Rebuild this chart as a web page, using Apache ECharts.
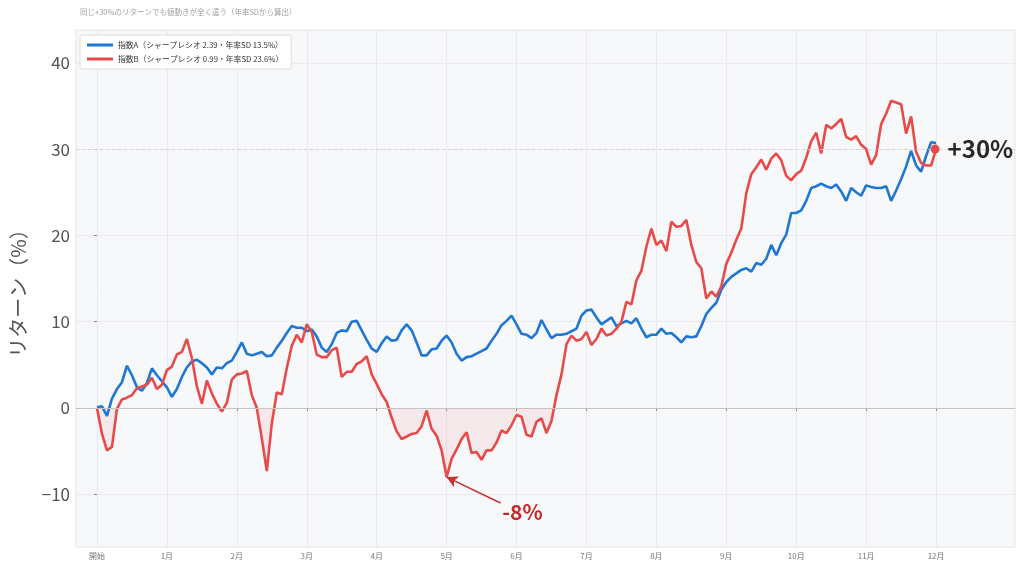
<!DOCTYPE html>
<html>
<head>
<meta charset="utf-8">
<script src="https://cdn.jsdelivr.net/npm/echarts@6/dist/echarts.min.js"></script>
<style>
html,body{margin:0;padding:0;background:#fff;}
#chart{width:1024px;height:566px;}
</style>
</head>
<body>
<div id="chart"></div>
<script>
// ---- data ----
const titleText = '同じ+30%のリターンでも値動きが全く違う（年率SDから算出）';
const monthLabels = ['開始','1月','2月','3月','4月','5月','6月','7月','8月','9月','10月','11月','12月'];
const stepsPerMonth = 14;
const yTicks = [-10, 0, 10, 20, 30, 40];
const seriesNames = ['指数A（シャープレシオ 2.39・年率SD 13.5%）', '指数B（シャープレシオ 0.99・年率SD 23.6%）'];
const indexA = [
  0.1,0.2,-0.9,1.1,2.2,3.0,4.9,3.8,2.4,2.0,
  2.9,4.6,3.8,3.1,2.4,1.3,2.2,3.6,4.7,5.4,
  5.6,5.2,4.7,3.9,4.7,4.6,5.2,5.5,6.5,7.6,
  6.3,6.1,6.3,6.5,6.0,6.1,7.0,7.8,8.7,9.5,
  9.3,9.3,8.9,9.1,8.3,7.0,6.5,7.4,8.7,9.0,
  8.9,10.0,10.1,9.0,7.9,6.9,6.5,7.5,8.3,7.8,
  7.9,9.0,9.7,9.0,7.6,6.1,6.1,6.8,6.9,7.8,
  8.4,7.6,6.3,5.5,5.9,6.0,6.3,6.6,6.9,7.8,
  8.6,9.6,10.1,10.7,9.7,8.6,8.5,8.1,8.7,10.2,
  9.1,8.1,8.5,8.5,8.6,8.9,9.2,10.7,11.3,11.4,
  10.5,9.7,10.1,10.5,9.5,9.8,10.1,9.8,10.4,9.2,
  8.2,8.5,8.5,9.2,8.6,8.7,8.2,7.6,8.3,8.2,
  8.3,9.5,10.9,11.6,12.2,13.7,14.6,15.2,15.6,16.0,
  16.2,15.8,16.8,16.6,17.3,18.9,17.7,19.1,20.1,22.6,
  22.6,22.9,24.0,25.5,25.7,26.0,25.7,25.5,25.9,25.1,
  24.0,25.5,25.0,24.6,25.8,25.6,25.5,25.5,25.7,24.0,
  25.2,26.5,28.0,29.8,28.1,27.4,29.2,30.8,30.7
];
const indexB = [
  0.0,-3.0,-4.9,-4.5,-0.1,1.0,1.2,1.5,2.3,2.5,
  2.7,3.5,2.2,2.7,4.4,4.8,6.2,6.5,8.0,5.8,
  2.5,0.5,3.2,1.7,0.5,-0.4,0.6,3.3,3.9,4.0,
  4.3,1.5,0.0,-3.5,-7.3,-1.8,1.8,1.6,4.6,7.2,
  8.5,7.6,9.7,8.8,6.2,5.9,5.9,6.7,7.0,3.6,
  4.2,4.2,5.1,5.4,6.0,3.9,2.8,1.6,0.7,-1.1,
  -2.7,-3.6,-3.3,-3.0,-2.9,-2.1,-0.3,-2.4,-3.2,-4.9,
  -8.0,-5.9,-4.8,-3.6,-2.8,-5.2,-5.1,-6.0,-4.9,-4.9,
  -4.0,-2.6,-2.9,-2.0,-0.8,-1.0,-3.1,-3.3,-1.6,-1.2,
  -2.9,-1.5,1.5,3.9,7.4,8.4,7.8,8.0,8.8,7.3,
  8.0,9.2,8.4,8.6,9.2,10.0,12.3,12.0,14.8,15.9,
  18.7,20.8,18.9,19.4,18.2,21.6,21.0,21.1,21.8,18.9,
  16.9,16.2,12.7,13.5,12.9,14.1,16.7,18.0,19.5,20.8,
  24.9,27.1,27.9,28.8,27.6,28.9,29.5,28.7,26.9,26.4,
  27.1,27.5,29.0,30.9,31.9,29.5,32.8,32.4,32.9,33.5,
  31.4,31.1,31.5,30.5,30.0,28.2,29.3,32.9,34.1,35.6,
  35.4,35.2,31.8,33.8,29.7,28.4,28.1,28.1,30.0
];

// ---- derived ----
const FONT = '"Noto Sans CJK JP","Noto Sans",sans-serif';
const toXY = arr => arr.map((v, i) => [i, v]);
const monthTicks = monthLabels.map((_, m) => m * stepsPerMonth);
const lastIdx = indexB.length - 1;
const minB = Math.min(...indexB);
const minIdx = indexB.indexOf(minB);
const finalB = indexB[lastIdx];
const blue = '#1f77d2';
const red = '#e84a4a';

const chart = echarts.init(document.getElementById('chart'), null, {renderer: 'canvas'});
chart.setOption({
  backgroundColor: '#ffffff',
  animation: false,
  textStyle: {fontFamily: FONT},
  title: {
    text: titleText, left: 75, top: 3,
    textStyle: {fontSize: 7.5, fontWeight: 'normal', color: '#a0a0a0', fontFamily: FONT}
  },
  legend: {
    orient: 'vertical', left: 80, top: 35,
    data: seriesNames,
    icon: 'rect', itemWidth: 26, itemHeight: 3, itemGap: 2,
    padding: [4, 8, 4, 7],
    backgroundColor: '#ffffff', borderColor: '#dedede', borderWidth: 1, borderRadius: 2,
    textStyle: {fontSize: 7.8, color: '#333', lineHeight: 12, fontFamily: FONT}
  },
  grid: {
    left: 75, right: 9, top: 30, bottom: 19,
    show: true, backgroundColor: '#f7f8fa', borderColor: '#e4e4ea', borderWidth: 1
  },
  xAxis: {
    type: 'value', min: -4.2, max: 183.8,
    axisLine: {show: true, lineStyle: {color: '#dcdce2'}},
    axisTick: {show: true, customValues: monthTicks, length: 3, lineStyle: {color: '#888'}},
    axisLabel: {
      customValues: monthTicks, fontSize: 8, color: '#777', margin: 5,
      formatter: v => monthLabels[Math.round(v / stepsPerMonth)], fontFamily: FONT
    },
    splitLine: {show: true, lineStyle: {color: '#e9e9ef', width: 1}}
  },
  yAxis: {
    type: 'value', min: -16.1, max: 43.8,
    name: 'リターン（%）', nameLocation: 'middle', nameGap: 48,
    nameTextStyle: {fontSize: 20, color: '#555', fontFamily: FONT},
    axisLine: {show: false},
    axisTick: {show: true, customValues: yTicks, length: 3, lineStyle: {color: '#888'}},
    axisLabel: {
      customValues: yTicks, fontSize: 17, color: '#555', margin: 6,
      formatter: v => (v < 0 ? '\u2212' + Math.abs(v) : String(v)), fontFamily: FONT
    },
    splitLine: {show: true, lineStyle: {color: '#e9e9ef', width: 1}}
  },
  series: [
    {
      name: 'drawdown', type: 'line', data: toXY(indexB.map(v => Math.min(v, 0))),
      symbol: 'none', silent: true, lineStyle: {width: 0, opacity: 0},
      areaStyle: {color: 'rgba(232,74,74,0.12)', origin: 'auto'}, z: 1,
      markLine: {
        silent: true, symbol: 'none', label: {show: false},
        data: [
          {yAxis: 0, lineStyle: {color: '#c4c4c4', width: 1.2, type: 'solid'}},
          {yAxis: finalB, lineStyle: {color: '#d2d2d6', width: 0.8, type: [3, 3]}}
        ]
      }
    },
    {
      name: seriesNames[0], type: 'line', data: toXY(indexA),
      symbol: 'none', color: blue, lineStyle: {width: 2.6, color: blue}, z: 3
    },
    {
      name: seriesNames[1], type: 'line', data: toXY(indexB),
      symbol: 'none', color: red, lineStyle: {width: 2.6, color: red}, z: 4,
      markLine: {
        silent: true, symbol: ['arrow', 'none'], symbolSize: [9, 11],
        label: {show: false},
        lineStyle: {color: '#cc2f2f', width: 1.5, type: 'solid'},
        data: [[{coord: [minIdx, minB]}, {coord: [minIdx + 10.8, minB - 3.0]}]]
      },
      markPoint: {
        silent: true, symbol: 'circle', symbolSize: 0,
        data: [{
          coord: [minIdx + 15.2, minB - 4.05],
          label: {
            show: true, position: 'inside', formatter: Math.round(minB) + '%',
            fontSize: 21, fontWeight: 'bold', color: '#c62828', fontFamily: FONT
          }
        }]
      }
    },
    {
      name: 'end', type: 'scatter', data: [[lastIdx - 0.2, finalB]],
      symbol: 'circle', symbolSize: 9, itemStyle: {color: red, opacity: 1}, z: 5,
      label: {
        show: true, position: 'right', distance: 8, opacity: 1,
        formatter: p => '+' + Math.round(p.value[1]) + '%',
        fontSize: 24, fontWeight: 'bold', color: '#2a2a2a', fontFamily: FONT
      }
    }
  ]
});
</script>
</body>
</html>
